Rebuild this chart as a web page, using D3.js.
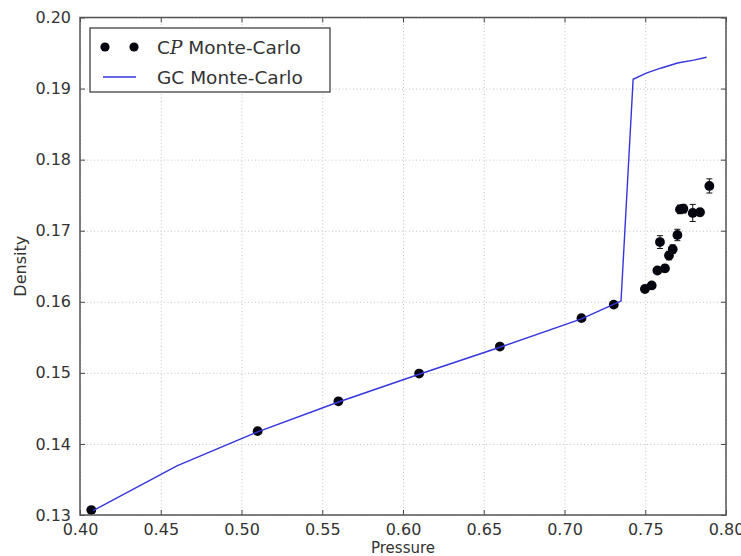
<!DOCTYPE html>
<html lang="en">
<head>
<meta charset="UTF-8">
<title>Density vs Pressure</title>
<style>
  body { margin: 0; background: #fff; }
  text { font-family: "DejaVu Sans", sans-serif; fill: #333; }
  .grid line { stroke: #c4c4c4; stroke-dasharray: 1,2.5; }
  .grid path { display: none; }
</style>
</head>
<body>
<svg id="chart" width="741" height="556"></svg>
<script src="https://cdn.jsdelivr.net/npm/d3@7"></script>
<script>
// tick values
var xTicks = [0.40, 0.45, 0.50, 0.55, 0.60, 0.65, 0.70, 0.75, 0.80]
var yTicks = [0.13, 0.14, 0.15, 0.16, 0.17, 0.18, 0.19, 0.20]

// GC Monte-Carlo curve
var gcP   = [0.408, 0.46, 0.51, 0.56, 0.61, 0.66, 0.7105, 0.731, 0.735, 0.7425, 0.751, 0.760, 0.770, 0.780, 0.788]
var gcRho = [0.1306, 0.1369, 0.1417, 0.1459, 0.1498, 0.1536, 0.1576, 0.1597, 0.1601, 0.1913, 0.1922, 0.1929, 0.1936, 0.1940, 0.1944]

// CP Monte-Carlo points with error bars
var cpP   = [0.407, 0.51, 0.56, 0.61, 0.66, 0.7105, 0.7305, 0.7498, 0.754, 0.7575, 0.7622, 0.7591, 0.7647, 0.767, 0.7699, 0.7715, 0.7736, 0.7794, 0.7839, 0.7897]
var cpRho = [0.1307, 0.1418, 0.1460, 0.1499, 0.1537, 0.1577, 0.1596, 0.1618, 0.1623, 0.1644, 0.1647, 0.1684, 0.1665, 0.1674, 0.1694, 0.1730, 0.1731, 0.1725, 0.1726, 0.1763]
var cpErr = [0.0002, 0.0002, 0.0002, 0.0002, 0.0002, 0.0002, 0.0002, 0.0004, 0.0003, 0.0004, 0.0005, 0.0009, 0.0006, 0.0006, 0.0008, 0.0006, 0.0006, 0.0012, 0.0005, 0.0010]

var pl = 80, pr = 726, pt = 17.5, pb = 515
var svg = d3.select('#chart')

var x = d3.scaleLinear().domain([0.40, 0.80]).range([pl, pr])
var y = d3.scaleLinear().domain([0.13, 0.20]).range([pb, pt])

// grid
svg.append('g').attr('class', 'grid')
    .attr('transform', 'translate(0,' + pb + ')')
    .call(d3.axisBottom(x).tickValues(xTicks).tickSize(-(pb - pt)).tickFormat(''))
svg.append('g').attr('class', 'grid')
    .attr('transform', 'translate(' + pl + ',0)')
    .call(d3.axisLeft(y).tickValues(yTicks).tickSize(-(pr - pl)).tickFormat(''))

// CP points: error bars then markers
var cp = cpP.map(function (p, i) { return {p: p, r: cpRho[i], e: cpErr[i]} })
var eb = svg.append('g').attr('stroke', '#111').attr('stroke-width', 1)
cp.forEach(function (d) {
    var cx = x(d.p)
    eb.append('line').attr('x1', cx).attr('x2', cx).attr('y1', y(d.r - d.e)).attr('y2', y(d.r + d.e))
    eb.append('line').attr('x1', cx - 3).attr('x2', cx + 3).attr('y1', y(d.r - d.e)).attr('y2', y(d.r - d.e))
    eb.append('line').attr('x1', cx - 3).attr('x2', cx + 3).attr('y1', y(d.r + d.e)).attr('y2', y(d.r + d.e))
})
svg.append('g').selectAll('circle')
    .data(cp)
    .enter()
    .append('circle')
    .attr('cx', function (d) { return x(d.p) })
    .attr('cy', function (d) { return y(d.r) })
    .attr('r', 4.9)
    .attr('fill', '#050510')

// GC line
var line = d3.line()
    .x(function (d, i) { return x(gcP[i]) })
    .y(function (d) { return y(d) })
svg.append('path')
    .attr('d', line(gcRho))
    .attr('fill', 'none')
    .attr('stroke', '#3535dd')
    .attr('stroke-width', 1.4)

// frame ticks (inside, all sides)
function styleAxis(g) {
    g.select('.domain').remove()
    g.selectAll('.tick line').attr('stroke', '#444')
    g.selectAll('.tick text').attr('font-size', 16).attr('fill', '#333')
}
svg.append('g').attr('transform', 'translate(0,' + pb + ')')
    .call(d3.axisBottom(x).tickValues(xTicks).tickSize(-5).tickPadding(9).tickFormat(d3.format('.2f')))
    .call(styleAxis)
svg.append('g').attr('transform', 'translate(0,' + pt + ')')
    .call(d3.axisTop(x).tickValues(xTicks).tickSize(-5).tickFormat(''))
    .call(styleAxis)
svg.append('g').attr('transform', 'translate(' + pl + ',0)')
    .call(d3.axisLeft(y).tickValues(yTicks).tickSize(-5).tickPadding(9).tickFormat(d3.format('.2f')))
    .call(styleAxis)
svg.append('g').attr('transform', 'translate(' + pr + ',0)')
    .call(d3.axisRight(y).tickValues(yTicks).tickSize(-5).tickFormat(''))
    .call(styleAxis)

svg.append('rect')
    .attr('x', pl).attr('y', pt)
    .attr('width', pr - pl).attr('height', pb - pt)
    .attr('fill', 'none').attr('stroke', '#555').attr('stroke-width', 1.5)

// axis labels
svg.append('text').attr('x', (pl + pr) / 2).attr('y', 553)
    .attr('text-anchor', 'middle').attr('font-size', 15).text('Pressure')
svg.append('text').attr('transform', 'translate(26,' + ((pt + pb) / 2) + ') rotate(-90)')
    .attr('text-anchor', 'middle').attr('font-size', 16).text('Density')

// legend
var lg = svg.append('g')
lg.append('rect').attr('x', 90).attr('y', 28).attr('width', 240).attr('height', 64)
    .attr('fill', '#fff').attr('stroke', '#333').attr('stroke-width', 1.2)
lg.append('circle').attr('cx', 105).attr('cy', 47).attr('r', 4.6).attr('fill', '#050510')
lg.append('circle').attr('cx', 134).attr('cy', 47).attr('r', 4.6).attr('fill', '#050510')
lg.append('line').attr('x1', 103).attr('x2', 136).attr('y1', 77).attr('y2', 77)
    .attr('stroke', '#3535dd').attr('stroke-width', 1.4)
var t1 = lg.append('text').attr('x', 157).attr('y', 54).attr('font-size', 18.5).attr('fill', '#222')
t1.append('tspan').text('C')
t1.append('tspan').attr('font-family', 'DejaVu Serif').attr('font-style', 'italic').text('P')
t1.append('tspan').text(' Monte-Carlo')
lg.append('text').attr('x', 157).attr('y', 84).attr('font-size', 18.5).attr('fill', '#222').text('GC Monte-Carlo')
</script>
</body>
</html>
